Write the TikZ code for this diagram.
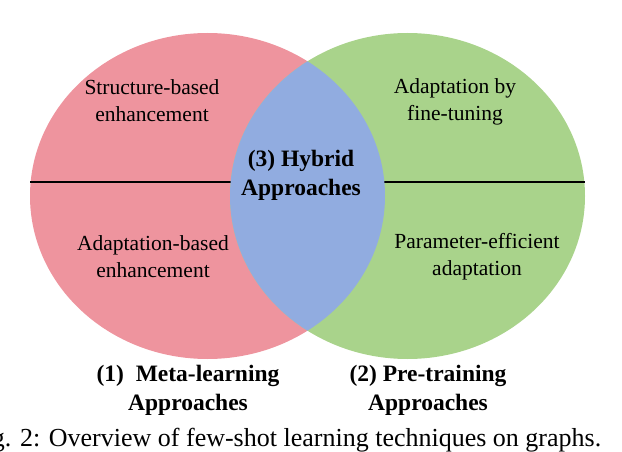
\documentclass[tikz,border=0pt]{standalone}
\usepackage{fontspec}
\setmainfont{Liberation Serif}
\definecolor{pinkc}{HTML}{EE949E}
\definecolor{greenc}{HTML}{A9D38B}
\definecolor{bluec}{HTML}{91ACE0}
\begin{document}
\begin{tikzpicture}[x=1pt,y=-1pt,
  lbl/.style={font=\fontsize{21.5}{27}\selectfont,align=center},
  blbl/.style={font=\fontsize{23.5}{29}\selectfont\bfseries,align=center}]
\useasboundingbox (0,0) rectangle (622,452);
\clip (0,0) rectangle (622,452);
\fill[pinkc] (207.5,196) ellipse [x radius=177.5,y radius=163];
\fill[greenc] (407.5,196) ellipse [x radius=177.5,y radius=163];
\draw[line width=2.4pt] (30,182) -- (585,182);
\begin{scope}
\clip (207.5,196) ellipse [x radius=177.5,y radius=163];
\fill[bluec] (407.5,196) ellipse [x radius=177.5,y radius=163];
\end{scope}
\node[lbl] (sb) at (152,101) {Structure-based\\enhancement};
\node[lbl] (ab) at (153,257) {Adaptation-based\\enhancement};
\node[lbl] (ft) at (455,102) {Adaptation by\\fine-tuning};
\node[lbl] (pe) at (477,257) {Parameter-efficient\\adaptation};
\node[blbl] (hy) at (301,175) {(3) Hybrid\\Approaches};
\node[blbl] (ml) at (188,390) {(1)~~Meta-learning\\Approaches};
\node[blbl] (pt) at (428,390) {(2) Pre-training\\Approaches};
\node[font=\fontsize{26}{30}\selectfont,anchor=west,inner sep=0pt] (cap) at (-30,440) {Fig. 2: Overview of few-shot learning techniques on graphs.};
\end{tikzpicture}
\end{document}
